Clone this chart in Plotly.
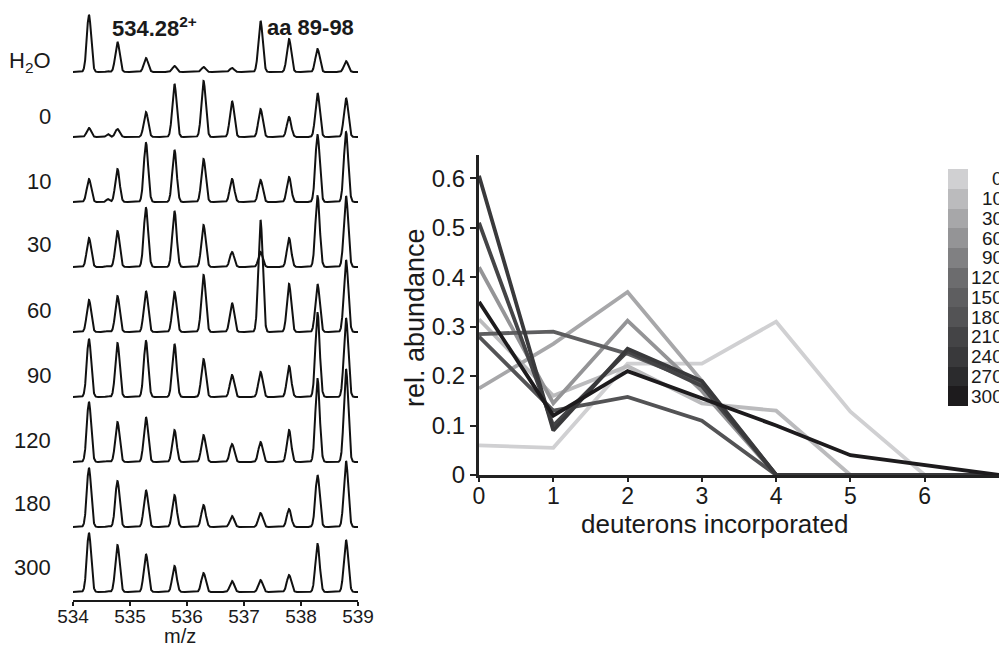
import numpy as np
import plotly.graph_objects as go

W, H = 999, 646
FONT = "Liberation Sans, Arial, sans-serif"
INK = "#1a1a1a"


def px(x):
    return x / W


def py(y):
    return 1 - y / H


# ---------------- mass spectra (left panel) ----------------
row_labels = ["H<sub>2</sub>O", "0", "10", "30", "60", "90", "120", "180", "300"]
peak_mz = [534.28, 534.78, 535.28, 535.78, 536.29, 536.79, 537.29, 537.79, 538.29, 538.79]

# peak heights per spectrum (stacked-axis units)
h_h2o = [57, 30, 14, 6, 5, 4, 51, 33, 23, 11]
h_0 = [9, 8, 25, 53, 56, 36, 28, 20, 44, 39]
h_10 = [23, 33, 59, 52, 43, 23, 22, 25, 67, 70]
h_30 = [29, 36, 59, 56, 42, 15, 15, 29, 71, 71]
h_60 = [32, 36, 41, 40, 57, 29, 112, 48, 48, 72]
h_90 = [58, 54, 56, 53, 38, 22, 25, 31, 84, 79]
h_120 = [60, 40, 45, 32, 27, 18, 20, 32, 83, 93]
h_180 = [59, 46, 37, 32, 22, 11, 14, 18, 52, 66]
h_300 = [59, 47, 38, 26, 19, 11, 12, 17, 48, 52]
spectra = [h_h2o, h_0, h_10, h_30, h_60, h_90, h_120, h_180, h_300]

# small satellite peak between the first two isotopes
minor_mz = 534.61
minor_h = [1, 3, 3, 1, 1, 1, 1, 1, 1]

row_step = 65.0
row_base = 8.0
sigma = 0.038
mz = np.linspace(533.98, 539.02, 2000)

# ---------------- deuterium uptake (right panel) ----------------
deuterons = [0, 1, 2, 3, 4, 5, 6, 7]
ab_0 = [0.06, 0.055, 0.225, 0.225, 0.31, 0.128, 0.0, 0.0]
ab_10 = [0.315, 0.16, 0.22, 0.145, 0.13, 0.0, 0.0, 0.0]
ab_30 = [0.175, 0.265, 0.37, 0.19, 0.0, 0.0, 0.0, 0.0]
ab_60 = [0.42, 0.145, 0.312, 0.17, 0.0, 0.0, 0.0, 0.0]
ab_150 = [0.285, 0.29, 0.245, 0.185, 0.0, 0.0, 0.0, 0.0]
ab_180 = [0.28, 0.13, 0.158, 0.11, 0.0, 0.0, 0.0, 0.0]
ab_210 = [0.51, 0.10, 0.25, 0.18, 0.0, 0.0, 0.0, 0.0]
ab_240 = [0.605, 0.09, 0.255, 0.19, 0.0, 0.0, 0.0, 0.0]
ab_300 = [0.35, 0.12, 0.21, 0.155, 0.10, 0.04, 0.02, 0.0]

legend_times = ["0", "10", "30", "60", "90", "120", "150", "180", "210", "240", "270", "300"]
legend_colors = ["#d0d0d2", "#bbbbbd", "#a7a7a9", "#949496", "#808082", "#6c6c6e",
                 "#5e5e60", "#535355", "#444446", "#39393b", "#2b2b2d", "#1d1b1d"]
shade = dict(zip(legend_times, legend_colors))

uptake = [("0", ab_0), ("10", ab_10), ("30", ab_30), ("60", ab_60), ("150", ab_150),
          ("180", ab_180), ("210", ab_210), ("240", ab_240), ("300", ab_300)]

fig = go.Figure()

# stacked spectra, top row first
n_rows = len(spectra)
for i, heights in enumerate(spectra):
    base = row_base + row_step * (n_rows - 1 - i)
    prof = np.zeros_like(mz)
    for c, h in zip(peak_mz, heights):
        prof += h * np.exp(-0.5 * ((mz - c) / sigma) ** 2)
    prof += minor_h[i] * np.exp(-0.5 * ((mz - minor_mz) / (sigma * 0.7)) ** 2)
    fig.add_trace(go.Scatter(x=mz, y=base + prof, mode="lines",
                             line=dict(color="#111111", width=2.0),
                             xaxis="x", yaxis="y", showlegend=False, hoverinfo="skip"))

for name, vals in uptake:
    fig.add_trace(go.Scatter(x=deuterons, y=vals, mode="lines", name=name,
                             line=dict(color=shade[name], width=3.8),
                             xaxis="x2", yaxis="y2", showlegend=False))

# discrete grey scale key
fig.add_trace(go.Heatmap(z=[[i] for i in range(len(legend_times))],
                         x=[0], y=list(range(len(legend_times))),
                         colorscale=[[i / (len(legend_colors) - 1), c] for i, c in enumerate(legend_colors)],
                         zmin=0, zmax=len(legend_colors) - 1, showscale=False,
                         xaxis="x3", yaxis="y3", hoverinfo="skip"))

annotations = []
label_y = [62, 117, 182, 245, 310, 375, 440, 503, 567]
for lab, yy in zip(row_labels, label_y):
    annotations.append(dict(text=lab, x=px(53), y=py(yy), xref="paper", yref="paper",
                            xanchor="right", yanchor="middle", showarrow=False,
                            font=dict(family=FONT, size=22, color=INK)))
annotations.append(dict(text="<b>534.28</b><sup><b>2+</b></sup>", x=px(110), y=py(27),
                        xref="paper", yref="paper", xanchor="left", yanchor="middle",
                        showarrow=False, font=dict(family=FONT, size=22, color=INK)))
annotations.append(dict(text="<b>aa 89-98</b>", x=px(265), y=py(27), xref="paper", yref="paper",
                        xanchor="left", yanchor="middle", showarrow=False,
                        font=dict(family=FONT, size=22, color=INK)))
annotations.append(dict(text="m/z", x=px(180), y=py(636), xref="paper", yref="paper",
                        xanchor="center", yanchor="middle", showarrow=False,
                        font=dict(family=FONT, size=20, color=INK)))
annotations.append(dict(text="rel. abundance", x=px(415), y=py(318), xref="paper", yref="paper",
                        xanchor="center", yanchor="middle", textangle=-90, showarrow=False,
                        font=dict(family=FONT, size=27, color=INK)))
annotations.append(dict(text="deuterons incorporated", x=px(714), y=py(524), xref="paper",
                        yref="paper", xanchor="center", yanchor="middle", showarrow=False,
                        font=dict(family=FONT, size=26, color=INK)))
for i, t in enumerate(legend_times):
    annotations.append(dict(text=t, x=px(1005), y=i, xref="paper", yref="y3",
                            xanchor="right", yanchor="middle", showarrow=False,
                            font=dict(family=FONT, size=19, color=INK)))

fig.update_layout(
    width=W, height=H, margin=dict(l=0, r=0, t=0, b=0, pad=0, autoexpand=False),
    paper_bgcolor="white", plot_bgcolor="white",
    font=dict(family=FONT, color=INK),
    xaxis=dict(domain=[px(73), px(358)], range=[534, 539], anchor="y",
               showline=True, linecolor=INK, linewidth=1.6, ticks="outside",
               ticklen=4, tickwidth=1.6, tickcolor=INK, tickvals=[534, 535, 536, 537, 538, 539],
               ticklabelstandoff=-6,
               tickfont=dict(size=19, color=INK), showgrid=False, zeroline=False),
    yaxis=dict(domain=[py(600), py(0)], range=[0, 600], visible=False, fixedrange=True),
    xaxis2=dict(domain=[px(479), 1.0], range=[0, 7], anchor="y2",
                showline=True, linecolor="#222222", linewidth=3, ticks="outside",
                ticklen=4, tickwidth=2, tickcolor="#222222", tickvals=[0, 1, 2, 3, 4, 5, 6],
                ticklabelstandoff=-6,
                tickfont=dict(size=23, color=INK), showgrid=False, zeroline=False),
    yaxis2=dict(domain=[py(475), py(155)], range=[0, 0.647], anchor="x2",
                showline=True, linecolor="#222222", linewidth=3, ticks="outside",
                ticklen=6, tickwidth=2, tickcolor="#222222",
                tickvals=[0, 0.1, 0.2, 0.3, 0.4, 0.5, 0.6],
                ticktext=["0", "0.1", "0.2", "0.3", "0.4", "0.5", "0.6"],
                tickfont=dict(size=24, color=INK), showgrid=False, zeroline=False),
    xaxis3=dict(domain=[px(948), px(968)], anchor="y3", visible=False),
    yaxis3=dict(domain=[py(406), py(169)], anchor="x3", visible=False,
                range=[len(legend_times) - 0.5, -0.5]),
    annotations=annotations,
)

# keep the page exactly the size of the figure
page_css = ("document.documentElement.style.margin='0';document.body.style.margin='0';"
            "document.body.style.padding='0';document.documentElement.style.overflow='hidden';"
            "document.body.style.overflow='hidden';")
fig.write_html("out.html", post_script=page_css)
